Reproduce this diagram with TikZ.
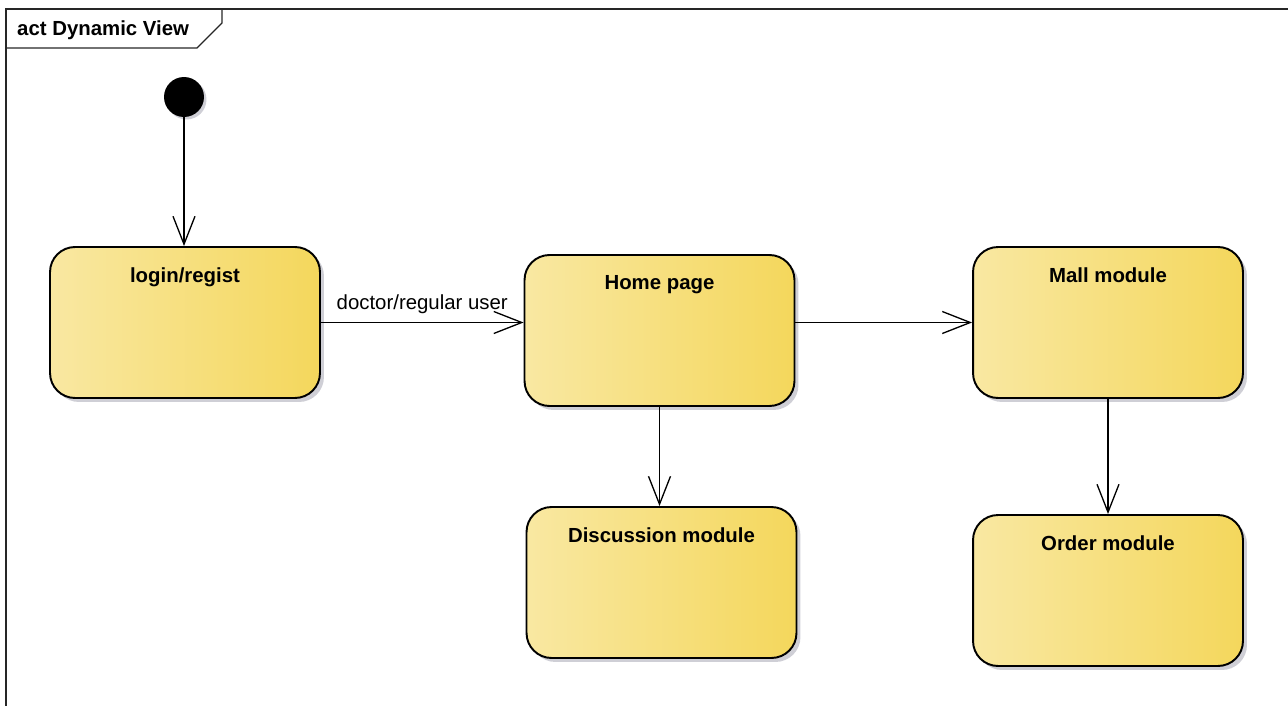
\documentclass[tikz,border=0pt]{standalone}
\usepackage{fontspec}
\setmainfont{Liberation Sans}
\usetikzlibrary{positioning, arrows.meta, shadows}

\definecolor{stateL}{HTML}{F9E8A2}
\definecolor{stateR}{HTML}{F4D75C}
\definecolor{shadowgray}{HTML}{CFCFD6}

\tikzset{
	uml/.style={font=\fontsize{11.6}{14}\selectfont},
	state/.style={draw, line width=1.1pt, rounded corners=0.5cm, minimum width=5.4cm, minimum height=3.02cm, left color=stateL, right color=stateR, drop shadow={shadow xshift=0.08cm, shadow yshift=-0.08cm, fill=shadowgray, opacity=1}},
	statetext/.style={uml, font=\bfseries\fontsize{11.6}{14}\selectfont, anchor=north, yshift=-0.3cm},
	flow/.style={line width=0.75pt, -{Straight Barb[length=0.56cm, width=0.44cm, line width=0.75pt]}},
}

\begin{document}
\begin{tikzpicture}[x=0.02cm, y=-0.02cm]
			\useasboundingbox (0,0) rectangle (1288,706);
			
			% frame and tab
			\draw[line width=0.8pt, black!85] (6,706)--(6,9)--(1288,9);
			\draw[line width=0.8pt, black!85] (6,48)--(197,48)--(222,23)--(222,9);
			\node[uml, font=\bfseries\fontsize{11.6}{14}\selectfont, anchor=west] (frametitle) at (11,30) {act Dynamic View};
			
			\node[circle, fill=black, minimum size=0.8cm, inner sep=0pt, drop shadow={shadow xshift=0.05cm, shadow yshift=-0.05cm, fill=shadowgray, opacity=1}] (start) at (184,97) {};
			
			\node[state, label={[statetext]north:login/regist}] (login) at (185,322.5) {};
			\node[state, label={[statetext]north:Home page}] (home) at (659.5,330.5) {};
			\node[state, label={[statetext]north:Mall module}] (mall) at (1108,322.5) {};
			\node[state, label={[statetext]north:Discussion module}] (discussion) at (661.5,582.5) {};
			\node[state, label={[statetext]north:Order module}] (order) at (1108,590.5) {};
			
			\draw[flow] (start) -- (start |- login.north);
			\draw[flow] (login.east) -- node[uml, above=0.05cm] (rolelabel) {doctor/regular user} (login.east -| home.west);
			\draw[flow] (home.east |- mall.west) -- (mall.west);
			\draw[flow] (home.south) -- (home.south |- discussion.north);
			\draw[flow] (mall.south) -- (order.north);
		\end{tikzpicture}
\end{document}
